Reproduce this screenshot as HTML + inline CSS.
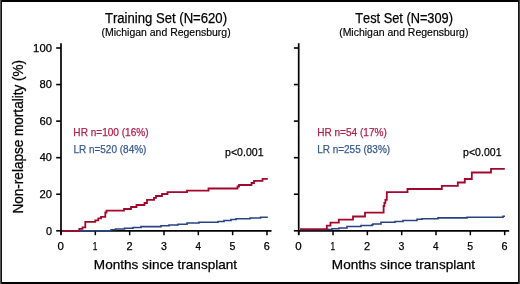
<!DOCTYPE html>
<html><head><meta charset="utf-8"><style>
html,body{margin:0;padding:0;background:#fff;}
svg{display:block;will-change:transform;}
text{font-family:"Liberation Sans",sans-serif;font-kerning:none;}
</style></head><body>
<svg width="520" height="284" viewBox="0 0 520 284">
<rect width="520" height="284" fill="#fff"/>
<text x="104.91" y="22.8" font-size="14" textLength="122.11" lengthAdjust="spacingAndGlyphs" fill="#000" stroke="#000" stroke-width="0.25" >Training Set (N=620)</text>
<text x="101.55" y="36" font-size="10" textLength="129.10" lengthAdjust="spacingAndGlyphs" fill="#000" stroke="#000" stroke-width="0.15" >(Michigan and Regensburg)</text>
<text x="355.21" y="22.8" font-size="14" textLength="97.78" lengthAdjust="spacingAndGlyphs" fill="#000" stroke="#000" stroke-width="0.25" >Test Set (N=309)</text>
<text x="339.15" y="36" font-size="10" textLength="129.30" lengthAdjust="spacingAndGlyphs" fill="#000" stroke="#000" stroke-width="0.15" >(Michigan and Regensburg)</text>
<text transform="rotate(-90)" x="-213.51" y="23" font-size="14" textLength="153.55" lengthAdjust="spacingAndGlyphs" fill="#000" stroke="#000" stroke-width="0.3">Non-relapse mortality (%)</text>
<text x="45.88" y="234.6" font-size="11" textLength="6.05" lengthAdjust="spacingAndGlyphs" fill="#000" stroke="#000" stroke-width="0.25" >0</text>
<text x="39.43" y="198.04" font-size="11" textLength="12.50" lengthAdjust="spacingAndGlyphs" fill="#000" stroke="#000" stroke-width="0.25" >20</text>
<text x="39.75" y="161.48" font-size="11" textLength="12.18" lengthAdjust="spacingAndGlyphs" fill="#000" stroke="#000" stroke-width="0.25" >40</text>
<text x="39.43" y="124.92" font-size="11" textLength="12.51" lengthAdjust="spacingAndGlyphs" fill="#000" stroke="#000" stroke-width="0.25" >60</text>
<text x="39.51" y="88.36" font-size="11" textLength="12.42" lengthAdjust="spacingAndGlyphs" fill="#000" stroke="#000" stroke-width="0.25" >80</text>
<text x="33.14" y="51.8" font-size="11" textLength="18.80" lengthAdjust="spacingAndGlyphs" fill="#000" stroke="#000" stroke-width="0.25" >100</text>
<line x1="61" y1="43.2" x2="61" y2="234.6" stroke="#000" stroke-width="1.7"/>
<line x1="61" y1="230.9" x2="271.5" y2="230.9" stroke="#000" stroke-width="1.6"/>
<line x1="56.2" y1="230.80" x2="61" y2="230.80" stroke="#000" stroke-width="1.6"/>
<line x1="56.2" y1="194.24" x2="61" y2="194.24" stroke="#000" stroke-width="1.6"/>
<line x1="56.2" y1="157.68" x2="61" y2="157.68" stroke="#000" stroke-width="1.6"/>
<line x1="56.2" y1="121.12" x2="61" y2="121.12" stroke="#000" stroke-width="1.6"/>
<line x1="56.2" y1="84.56" x2="61" y2="84.56" stroke="#000" stroke-width="1.6"/>
<line x1="56.2" y1="48.00" x2="61" y2="48.00" stroke="#000" stroke-width="1.6"/>
<line x1="61.00" y1="230.9" x2="61.00" y2="235.2" stroke="#000" stroke-width="1.5"/>
<text x="57.60" y="250.2" font-size="11" textLength="6.40" lengthAdjust="spacingAndGlyphs" fill="#000" stroke="#000" stroke-width="0.25" >0</text>
<line x1="95.33" y1="230.9" x2="95.33" y2="235.2" stroke="#000" stroke-width="1.5"/>
<text x="92.69" y="250.2" font-size="11" textLength="4.64" lengthAdjust="spacingAndGlyphs" fill="#000" stroke="#000" stroke-width="0.25" >1</text>
<line x1="129.66" y1="230.9" x2="129.66" y2="235.2" stroke="#000" stroke-width="1.5"/>
<text x="126.41" y="250.2" font-size="11" textLength="6.10" lengthAdjust="spacingAndGlyphs" fill="#000" stroke="#000" stroke-width="0.25" >2</text>
<line x1="163.99" y1="230.9" x2="163.99" y2="235.2" stroke="#000" stroke-width="1.5"/>
<text x="160.89" y="250.2" font-size="11" textLength="5.87" lengthAdjust="spacingAndGlyphs" fill="#000" stroke="#000" stroke-width="0.25" >3</text>
<line x1="198.32" y1="230.9" x2="198.32" y2="235.2" stroke="#000" stroke-width="1.5"/>
<text x="195.39" y="250.2" font-size="11" textLength="5.52" lengthAdjust="spacingAndGlyphs" fill="#000" stroke="#000" stroke-width="0.25" >4</text>
<line x1="232.65" y1="230.9" x2="232.65" y2="235.2" stroke="#000" stroke-width="1.5"/>
<text x="229.53" y="250.2" font-size="11" textLength="5.87" lengthAdjust="spacingAndGlyphs" fill="#000" stroke="#000" stroke-width="0.25" >5</text>
<line x1="266.98" y1="230.9" x2="266.98" y2="235.2" stroke="#000" stroke-width="1.5"/>
<text x="263.73" y="250.2" font-size="11" textLength="6.03" lengthAdjust="spacingAndGlyphs" fill="#000" stroke="#000" stroke-width="0.25" >6</text>
<line x1="298.7" y1="43.2" x2="298.7" y2="234.6" stroke="#000" stroke-width="1.7"/>
<line x1="298.7" y1="230.9" x2="509.2" y2="230.9" stroke="#000" stroke-width="1.6"/>
<line x1="293.9" y1="230.80" x2="298.7" y2="230.80" stroke="#000" stroke-width="1.6"/>
<line x1="293.9" y1="194.24" x2="298.7" y2="194.24" stroke="#000" stroke-width="1.6"/>
<line x1="293.9" y1="157.68" x2="298.7" y2="157.68" stroke="#000" stroke-width="1.6"/>
<line x1="293.9" y1="121.12" x2="298.7" y2="121.12" stroke="#000" stroke-width="1.6"/>
<line x1="293.9" y1="84.56" x2="298.7" y2="84.56" stroke="#000" stroke-width="1.6"/>
<line x1="293.9" y1="48.00" x2="298.7" y2="48.00" stroke="#000" stroke-width="1.6"/>
<line x1="298.70" y1="230.9" x2="298.70" y2="235.2" stroke="#000" stroke-width="1.5"/>
<text x="295.30" y="250.2" font-size="11" textLength="6.40" lengthAdjust="spacingAndGlyphs" fill="#000" stroke="#000" stroke-width="0.25" >0</text>
<line x1="333.03" y1="230.9" x2="333.03" y2="235.2" stroke="#000" stroke-width="1.5"/>
<text x="330.39" y="250.2" font-size="11" textLength="4.64" lengthAdjust="spacingAndGlyphs" fill="#000" stroke="#000" stroke-width="0.25" >1</text>
<line x1="367.36" y1="230.9" x2="367.36" y2="235.2" stroke="#000" stroke-width="1.5"/>
<text x="364.11" y="250.2" font-size="11" textLength="6.10" lengthAdjust="spacingAndGlyphs" fill="#000" stroke="#000" stroke-width="0.25" >2</text>
<line x1="401.69" y1="230.9" x2="401.69" y2="235.2" stroke="#000" stroke-width="1.5"/>
<text x="398.59" y="250.2" font-size="11" textLength="5.87" lengthAdjust="spacingAndGlyphs" fill="#000" stroke="#000" stroke-width="0.25" >3</text>
<line x1="436.02" y1="230.9" x2="436.02" y2="235.2" stroke="#000" stroke-width="1.5"/>
<text x="433.09" y="250.2" font-size="11" textLength="5.52" lengthAdjust="spacingAndGlyphs" fill="#000" stroke="#000" stroke-width="0.25" >4</text>
<line x1="470.35" y1="230.9" x2="470.35" y2="235.2" stroke="#000" stroke-width="1.5"/>
<text x="467.23" y="250.2" font-size="11" textLength="5.87" lengthAdjust="spacingAndGlyphs" fill="#000" stroke="#000" stroke-width="0.25" >5</text>
<line x1="504.68" y1="230.9" x2="504.68" y2="235.2" stroke="#000" stroke-width="1.5"/>
<text x="501.43" y="250.2" font-size="11" textLength="6.03" lengthAdjust="spacingAndGlyphs" fill="#000" stroke="#000" stroke-width="0.25" >6</text>
<text x="93.89" y="269.2" font-size="13.4" textLength="143.21" lengthAdjust="spacingAndGlyphs" fill="#000" stroke="#000" stroke-width="0.25" >Months since transplant</text>
<text x="331.89" y="269.2" font-size="13.4" textLength="143.21" lengthAdjust="spacingAndGlyphs" fill="#000" stroke="#000" stroke-width="0.25" >Months since transplant</text>
<text x="73.37" y="135.8" font-size="10.6" textLength="75.25" lengthAdjust="spacingAndGlyphs" fill="#b0214d" stroke="#b0214d" stroke-width="0.25" >HR n=100 (16%)</text>
<text x="73.38" y="152.5" font-size="10.6" textLength="73.04" lengthAdjust="spacingAndGlyphs" fill="#3a5a93" stroke="#3a5a93" stroke-width="0.25" >LR n=520 (84%)</text>
<text x="225.12" y="155.8" font-size="11.3" textLength="38.39" lengthAdjust="spacingAndGlyphs" fill="#000" stroke="#000" stroke-width="0.25" >p&lt;0.001</text>
<text x="317.17" y="135.8" font-size="10.6" textLength="69.65" lengthAdjust="spacingAndGlyphs" fill="#b0214d" stroke="#b0214d" stroke-width="0.25" >HR n=54 (17%)</text>
<text x="317.18" y="152.5" font-size="10.6" textLength="72.94" lengthAdjust="spacingAndGlyphs" fill="#3a5a93" stroke="#3a5a93" stroke-width="0.25" >LR n=255 (83%)</text>
<text x="463.12" y="155.8" font-size="11.3" textLength="38.39" lengthAdjust="spacingAndGlyphs" fill="#000" stroke="#000" stroke-width="0.25" >p&lt;0.001</text>
<path d="M62,230.8 H111 V229.8 H115.5 V229 H124.5 V228.3 H133 V227.5 H141 V226.6 H161 V225.8 H169 V225 H178 V224.2 H187 V223 H199 V222.2 H218 V221.5 H224 V220.5 H231 V219.5 H236 V218.8 H250 V218 H260.5 V217.2 H267.8" fill="none" stroke="#284382" stroke-width="1.6" stroke-linejoin="miter"/>
<path d="M62,230.8 H79.3 V228.8 H82.5 V227.3 H85.3 V221.8 H95.3 V220.3 H98.3 V218.4 H101 V216.8 H105.3 V212.5 H106.5 V210.7 H124 V209 H131 V207 H136.5 V205 H144.5 V203 H147 V199.8 H154 V197.8 H156 V196 H162 V194 H167.5 V192.2 H187 V190.7 H208.5 V188.5 H237.5 V186.5 H239 V185 H251.5 V183 H254 V180.8 H262.5 V178.8 H267.8" fill="none" stroke="#a3072c" stroke-width="1.8" stroke-linejoin="miter"/>
<path d="M300,229.4 H328 V229.5 H332 V228.8 H339 V228 H347 V226.5 H361 V225.5 H372 V224.8 H373 V224 H381 V222.2 H395 V221.5 H403 V220.5 H417 V219.3 H422 V218.8 H438 V217.9 H467 V217.2 H503 V216.2 H505" fill="none" stroke="#284382" stroke-width="1.6" stroke-linejoin="miter"/>
<path d="M300,229.4 H326.8 V225.7 H330.5 V222.6 H338.8 V219.6 H353 V216.5 H365 V212.6 H383.6 V206 H384.4 V202.8 H385.4 V199.8 H386.8 V192.2 H407.5 V189 H441.8 V185.9 H457.8 V182.5 H464.8 V179 H471.8 V172.5 H491 V168.8 H504.8" fill="none" stroke="#a3072c" stroke-width="1.8" stroke-linejoin="miter"/>
<rect x="0" y="0" width="520" height="2" fill="#000"/>
<rect x="0" y="282" width="520" height="2" fill="#000"/>
<rect x="0" y="0" width="1" height="284" fill="#555"/>
<rect x="1" y="0" width="1" height="284" fill="#111"/>
<rect x="518" y="0" width="1" height="284" fill="#111"/>
<rect x="519" y="0" width="1" height="284" fill="#444"/>
</svg>
</body></html>
